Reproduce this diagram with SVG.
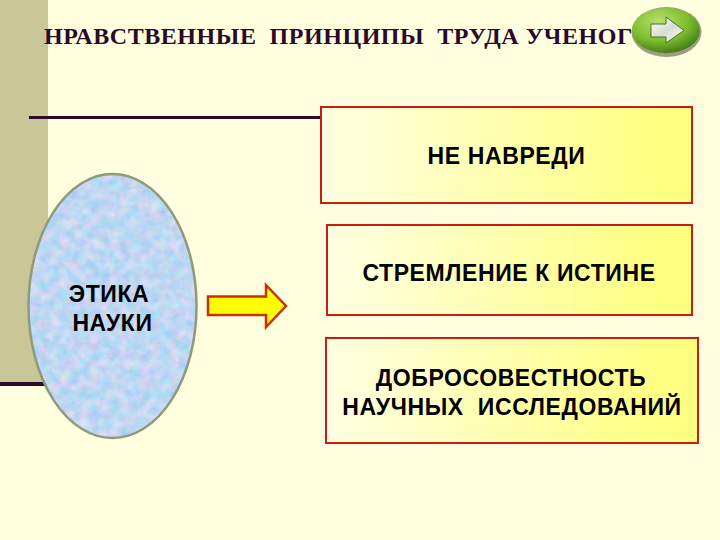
<svg xmlns="http://www.w3.org/2000/svg" width="720" height="540" viewBox="0 0 720 540">
<style>
.s{font-family:"Liberation Sans",Arial,sans-serif;font-weight:bold;font-size:23px;letter-spacing:0.6px;fill:#000;text-anchor:middle}
.t{font-family:"Liberation Serif","Times New Roman",serif;font-weight:bold;font-size:24px;letter-spacing:0.55px;fill:#2a0a2a;white-space:pre}
.box{stroke:#c81c14;stroke-width:2;fill:url(#yg)}
.rule{stroke:#2d0a2d;stroke-width:3}
</style>
<defs>
<linearGradient id="yg" x1="0" x2="1" y1="0" y2="0"><stop offset="0" stop-color="#ffffe2"/><stop offset="0.12" stop-color="#ffffd6"/><stop offset="0.88" stop-color="#ffff84"/><stop offset="1" stop-color="#ffff80"/></linearGradient>
<radialGradient id="btn" cx="0.4" cy="0.3" r="0.8"><stop offset="0" stop-color="#b8e070"/><stop offset="0.55" stop-color="#7cbc2c"/><stop offset="1" stop-color="#2f6a10"/></radialGradient>
<linearGradient id="arw" x1="0" x2="1" y1="0" y2="1"><stop offset="0" stop-color="#ffffff"/><stop offset="0.5" stop-color="#d8dcd8"/><stop offset="1" stop-color="#ffffff"/></linearGradient>
<filter id="tex" x="0" y="0" width="100%" height="100%" color-interpolation-filters="sRGB">
<feTurbulence type="fractalNoise" baseFrequency="0.1" numOctaves="4" seed="7"/>
<feColorMatrix type="matrix" values="0.4 0 0 0 0.55  0 -0.15 0 0 0.92  0 0 0.1 0 0.9  0 0 0 0 1"/>
</filter>
<clipPath id="ec"><ellipse cx="112.500" cy="306" rx="84" ry="132"/></clipPath>
</defs>
<rect width="720" height="540" fill="#ffffdf"/>
<rect x="0" y="0" width="48" height="384" fill="#c9c797"/>
<g id="rules">
<line class="rule" x1="29" y1="117.500" x2="321" y2="117.500"/>
<line class="rule" x1="0" y1="384" x2="60" y2="384" style="stroke-width:4"/>
</g>
<text id="title" class="t" x="44" y="44">НРАВСТВЕННЫЕ  ПРИНЦИПЫ  ТРУДА УЧЕНОГ</text>
<g id="button">
<ellipse cx="666.500" cy="32" rx="35" ry="25" fill="#4a4a30" opacity="0.55"/>
<ellipse cx="666" cy="30.500" rx="34" ry="22.500" fill="url(#btn)"/>
<path d="M651 24H666V17L684 30.500L666 43V37H651Z" fill="url(#arw)" stroke="#3e7a18" stroke-width="1"/>
</g>
<g id="ethics">
<g clip-path="url(#ec)"><rect x="28" y="174" width="170" height="265" filter="url(#tex)"/></g>
<ellipse cx="112.500" cy="306" rx="84" ry="132" fill="none" stroke="#8f9a7c" stroke-width="2.500"/>
<text class="s" x="109" y="301.500">ЭТИКА</text>
<text class="s" x="112.500" y="330.500">НАУКИ</text>
</g>
<g id="connectors">
<path d="M208 296.500H266V285L286 306L266 327V315H208Z" fill="#ffff00" stroke="#c8300c" stroke-width="2.500"/>
</g>
<g id="box1">
<rect class="box" x="321" y="107" width="371" height="96"/>
<text class="s" x="506.500" y="164">НЕ НАВРЕДИ</text>
</g>
<g id="box2">
<rect class="box" x="327" y="225" width="365" height="90"/>
<text class="s" x="509" y="281">СТРЕМЛЕНИЕ К ИСТИНЕ</text>
</g>
<g id="box3">
<rect class="box" x="326" y="338" width="372" height="105"/>
<text class="s" x="511" y="386">ДОБРОСОВЕСТНОСТЬ</text>
<text class="s" x="512" y="415" style="white-space:pre">НАУЧНЫХ  ИССЛЕДОВАНИЙ</text>
</g>
</svg>
